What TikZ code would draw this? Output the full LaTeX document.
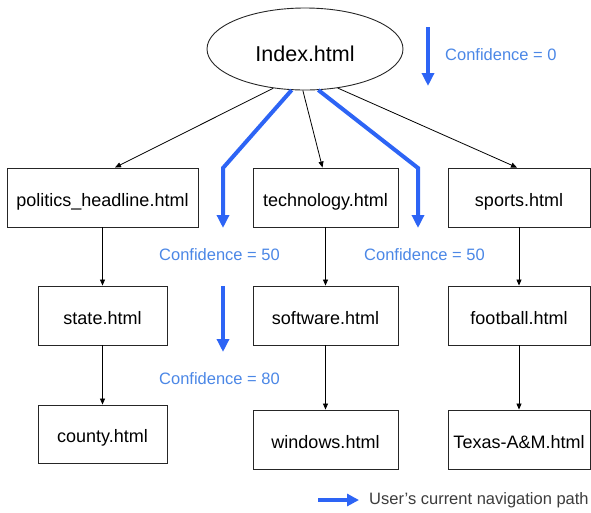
\documentclass[tikz,border=0pt]{standalone}
\usepackage{fontspec}
\setmainfont{Liberation Sans}
\usetikzlibrary{arrows.meta,calc,shapes.geometric}
\definecolor{pathblue}{RGB}{45,100,245}
\definecolor{confblue}{RGB}{75,135,230}
\definecolor{legendgray}{RGB}{60,60,60}
\begin{document}
\begin{tikzpicture}[x=1pt,y=1pt,
  page/.style={draw=black!85,line width=0.9pt,minimum height=59pt,inner sep=0pt,text height=17pt,text depth=0pt,font=\fontsize{18}{20}\selectfont},
  link/.style={black,line width=0.8pt,-{Triangle[width=5pt,length=6pt]}},
  navpath/.style={pathblue,line width=4pt,-{Triangle[width=12pt,length=13pt]}},
  conf/.style={confblue,anchor=west,inner sep=0pt,font=\fontsize{16.5}{18}\selectfont}]
\useasboundingbox (0,0) rectangle (591,-512);
\node[ellipse,draw=black!85,line width=0.9pt,minimum width=196pt,minimum height=82pt,inner sep=0pt,text height=24pt,text depth=0pt,font=\fontsize{21.5}{24}\selectfont] (idx) at (305,-49) {Index.html};

\node[page,minimum width=191pt] (pol) at (102.5,-197.5) {politics\_headline.html};
\node[page,minimum width=145pt] (tech) at (325.5,-197.5) {technology.html};
\node[page,minimum width=142pt] (sp) at (519,-197.5) {sports.html};
\node[page,minimum width=129pt] (st) at (102.5,-315.5) {state.html};
\node[page,minimum width=145pt] (sw) at (325.5,-315.5) {software.html};
\node[page,minimum width=142pt] (fb) at (519,-315.5) {football.html};
\node[page,minimum width=129pt,minimum height=58pt] (co) at (102.5,-434) {county.html};
\node[page,minimum width=145pt] (win) at (325.5,-439.5) {windows.html};
\node[page,minimum width=142pt] (tx) at (519,-439.5) {Texas-A\&M.html};

% black links
\draw[link] (idx.231) -- ($(pol.north)+(12.5,0)$);
\draw[link] (idx.267) -- ($(tech.north)+(-3,0)$);
\draw[link] (idx.310) -- ($(sp.north)+(-2,0)$);
\draw[link] (pol.south) -- (st.north);
\draw[link] (st.south) -- (co.north);
\draw[link] (tech.south) -- (sw.north);
\draw[link] (sw.south) -- (win.north);
\draw[link] (sp.south) -- (fb.north);
\draw[link] (fb.south) -- (tx.north);

% blue navigation paths
\coordinate (lb) at (223,-168);
\coordinate (le) at (223,-228);
\coordinate (rb) at (418,-168);
\coordinate (re) at (418,-228);
\draw[navpath,line join=miter] (idx.252) -- (lb) -- (le);
\draw[navpath,line join=miter] (idx.288) -- (rb) -- (re);
\coordinate (t1) at (428,-27);
\coordinate (t2) at (428,-86);
\draw[navpath] (t1) -- (t2);
\coordinate (m1) at (223,-286);
\coordinate (m2) at (223,-352);
\draw[navpath] (m1) -- (m2);
\coordinate (g1) at (318,-500);
\coordinate (g2) at (359,-500);
\draw[navpath,-{Triangle[width=12pt,length=12pt]}] (g1) -- (g2);

% labels
\node[conf] (c0) at (445,-55) {Confidence = 0};
\node[conf] (c50a) at (159,-255) {Confidence = 50};
\node[conf] (c50b) at (364,-255) {Confidence = 50};
\node[conf] (c80) at (159,-379) {Confidence = 80};
\node[legendgray,anchor=west,inner sep=0pt,font=\fontsize{16.5}{18}\selectfont] (leg) at (369,-500) {User's current navigation path};
\end{tikzpicture}
\end{document}
